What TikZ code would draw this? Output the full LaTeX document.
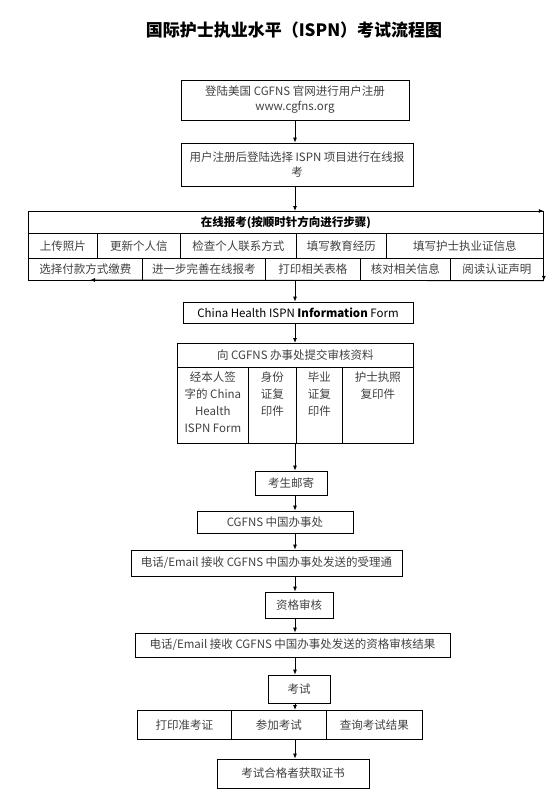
\documentclass[tikz,border=0pt]{standalone}
\usepackage{fontspec}
\setmainfont{Noto Sans CJK SC}
\usetikzlibrary{arrows.meta,positioning}

\tikzset{
  box/.style={draw,line width=0.8pt,inner sep=2pt,align=center,
    font=\fontsize{11.5}{15}\selectfont,text=black!75},
  cell/.style={box,anchor=north west},
}

\begin{document}
\begin{tikzpicture}[x=1pt,y=-1pt,line width=0.8pt,>={Latex[length=5pt,width=4pt]}]
\useasboundingbox (0,0) rectangle (557,804);
\coordinate (spine) at (295,0);
% ---------- 标题 ----------
\node[font=\fontsize{17}{20}\selectfont\bfseries] (title) at (294,30) {国际护士执业水平（ISPN）考试流程图};
% ---------- 注册与报名 ----------
\node[box,minimum width=228,minimum height=40] (reg) at (295,100) {登陆美国 CGFNS 官网进行用户注册\\www.cgfns.org};
\node[box,minimum width=232,minimum height=43] (apply) at (297,164.5) {用户注册后登陆选择 ISPN 项目进行在线报\\考};
% ---------- 在线报考（顺时针） ----------
\node[cell,minimum width=515,minimum height=22,font=\fontsize{11.5}{15}\selectfont\bfseries,text=black] (online) at (28,211) {在线报考(按顺时针方向进行步骤)};
\foreach \n/\xa/\xb/\txt in {1/28/97/上传照片,2/97/180/更新个人信,3/180/296/检查个人联系方式,4/296/386/填写教育经历,5/386/543/填写护士执业证信息}
  \node[cell,minimum width={\xb-\xa},minimum height=25] (u\n) at (\xa,233) {\txt};
\foreach \n/\xa/\xb/\txt in {1/28/142/选择付款方式缴费,2/142/265/进一步完善在线报考,3/265/360/打印相关表格,4/360/450/核对相关信息,5/450/543/阅读认证声明}
  \node[cell,minimum width={\xb-\xa},minimum height=22] (v\n) at (\xa,258) {\txt};
% 方向箭头
\coordinate (back) at (90,280);
\draw[->] (online.north west) -- (online.north east);
\draw[->] (online.north east) -- (v5.south east);
\draw[->] (v5.south east) -- (back);
% ---------- 表格与资料 ----------
\node[box,minimum width=230,minimum height=21,text=black] (form) at (298,312.5) {China Health ISPN \textbf{Information} Form};
\node[cell,minimum width=236,minimum height=24] (submit) at (177,343) {向 CGFNS 办事处提交审核资料};
\foreach \n/\xa/\w/\txt in {1/177/71/{经本人签\\字的 China\\Health\\ISPN Form},2/248/48/{身份\\证复\\印件},3/296/46/{毕业\\证复\\印件},4/342/71/{护士执照\\复印件}}
  \node[cell,inner sep=4pt] (s\n) at (\xa,367)
    {\parbox[t][68pt][t]{\dimexpr\w pt-8pt\relax}{\centering\fontsize{11.5}{17}\selectfont\txt}};
% ---------- 邮寄与审核 ----------
\node[box,minimum width=72,minimum height=24] (mail) at (291,483) {考生邮寄};
\node[box,minimum width=156,minimum height=22] (office) at (275,522) {CGFNS 中国办事处};
\node[box,minimum width=271,minimum height=26] (notice) at (266.5,563) {电话/Email 接收 CGFNS 中国办事处发送的受理通};
\node[box,minimum width=68,minimum height=26] (check) at (299,605) {资格审核};
\node[box,minimum width=315,minimum height=24] (result) at (292.5,645) {电话/Email 接收 CGFNS 中国办事处发送的资格审核结果};
% ---------- 考试 ----------
\node[box,minimum width=62,minimum height=28] (exam) at (299,689) {考试};
\foreach \n/\xa/\w/\txt in {1/137/94/打印准考证,2/231/95/参加考试,3/326/96/查询考试结果}
  \node[cell,minimum width=\w,minimum height=29] (e\n) at (\xa,710) {\txt};
\node[box,minimum width=152,minimum height=29] (cert) at (293,773.5) {考试合格者获取证书};
% ---------- 主干箭头 ----------
\draw[->] (reg.south -| spine) -- (apply.north -| spine);
\draw[->] (apply.south -| spine) -- (online.north -| spine);
\draw[->] (v3.south -| spine) -- (form.north -| spine);
\draw[->] (form.south -| spine) -- (submit.north -| spine);
\draw[->] (s2.south -| spine) -- (mail.north -| spine);
\draw[->] (mail.south -| spine) -- (office.north -| spine);
\draw[->] (office.south -| spine) -- (notice.north -| spine);
\draw[->] (notice.south -| spine) -- (check.north -| spine);
\draw[->] (check.south -| spine) -- (result.north -| spine);
\draw[->] (result.south -| spine) -- (exam.north -| spine);
\draw[->] (exam.south -| spine) -- (e2.north -| spine);
\draw[->] (e2.south -| spine) -- (cert.north -| spine);
\end{tikzpicture}
\end{document}
